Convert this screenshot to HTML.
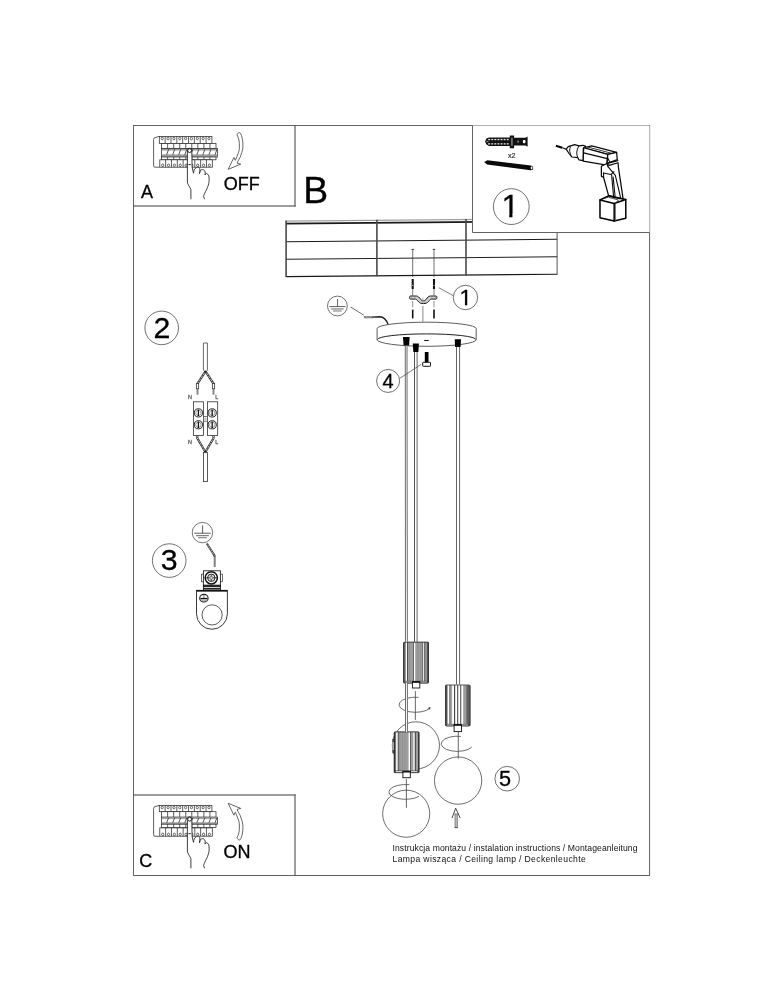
<!DOCTYPE html>
<html lang="pl">
<head>
<meta charset="utf-8">
<title>Instrukcja montażu</title>
<style>
html,body{margin:0;padding:0;background:#fff;}
body{width:774px;height:1000px;overflow:hidden;}
svg{display:block;will-change:transform;}
text{font-family:"Liberation Sans",Arial,Helvetica,sans-serif;fill:#000;stroke:#000;stroke-width:0.3px;}
</style>
</head>
<body>
<svg width="774" height="1000" viewBox="0 0 774 1000">
<rect x="0" y="0" width="774" height="1000" fill="#ffffff"/>

<path d="M133.5,125 L133.5,876 M133,125.5 L650,125.5 M649.6,125 L649.6,876 M133,875.5 L650,875.5" fill="none" stroke="#626262" stroke-width="1"/>
<g stroke="#333" stroke-width="1" fill="none"><line x1="285.8" y1="221.10" x2="557.3" y2="218.71" stroke-width="1.4" stroke="#a0a0a0"/><line x1="285.8" y1="223.60" x2="557.3" y2="221.21" stroke-width="1.8" stroke="#1a1a1a"/><line x1="285.8" y1="241.70" x2="557.3" y2="239.31" stroke-width="1.05" stroke="#1a1a1a"/><line x1="285.8" y1="259.20" x2="557.3" y2="256.81" stroke-width="1.05" stroke="#222"/><line x1="285.8" y1="276.60" x2="557.3" y2="274.21" stroke-width="1.05" stroke="#1a1a1a"/><line x1="286.1" y1="220.60" x2="286.1" y2="277.10" stroke-width="1.6" stroke="#4a4a4a"/><line x1="376.9" y1="219.80" x2="376.9" y2="276.30" stroke-width="1.6" stroke="#4a4a4a"/><line x1="466.0" y1="219.01" x2="466.0" y2="275.51" stroke-width="1.6" stroke="#4a4a4a"/><line x1="557.1" y1="218.21" x2="557.1" y2="274.71" stroke-width="1.0" stroke="#555"/></g>
<path d="M295,125.5 L295,206.5 M133.5,206 L295.5,206" fill="none" stroke="#3c3c3c" stroke-width="1"/>
<rect x="472.5" y="125.5" width="177" height="107" fill="#fff" stroke="none"/><path d="M472.5,125.5 L472.5,232.5 L649.6,232.5" fill="none" stroke="#626262" stroke-width="1"/>
<path d="M133.5,795 L295.5,795 M295,794.5 L295,875.5" fill="none" stroke="#3c3c3c" stroke-width="1"/>
<g transform="translate(0,0)" stroke="#2a2a2a" stroke-width="0.75" fill="none"><path d="M159.3,136.4 L155,137.6 Q153.6,138.0 153.6,139.4 L153.6,165.8 Q153.6,167.2 155,167.2 L159.8,167.2"/><rect x="159.3" y="136.4" width="52.6" height="7.00" fill="#fff"/><line x1="165.14" y1="136.4" x2="165.14" y2="143.4"/><line x1="170.99" y1="136.4" x2="170.99" y2="143.4"/><line x1="176.83" y1="136.4" x2="176.83" y2="143.4"/><line x1="182.68" y1="136.4" x2="182.68" y2="143.4"/><line x1="188.52" y1="136.4" x2="188.52" y2="143.4"/><line x1="194.36" y1="136.4" x2="194.36" y2="143.4"/><line x1="200.21" y1="136.4" x2="200.21" y2="143.4"/><line x1="206.05" y1="136.4" x2="206.05" y2="143.4"/><ellipse cx="162.22" cy="138.50" rx="1.1" ry="1.3" stroke-width="0.7"/><ellipse cx="168.07" cy="138.50" rx="1.1" ry="1.3" stroke-width="0.7"/><ellipse cx="173.91" cy="138.50" rx="1.1" ry="1.3" stroke-width="0.7"/><ellipse cx="179.75" cy="138.50" rx="1.1" ry="1.3" stroke-width="0.7"/><ellipse cx="185.60" cy="138.50" rx="1.1" ry="1.3" stroke-width="0.7"/><ellipse cx="191.44" cy="138.50" rx="1.1" ry="1.3" stroke-width="0.7"/><ellipse cx="197.29" cy="138.50" rx="1.1" ry="1.3" stroke-width="0.7"/><ellipse cx="203.13" cy="138.50" rx="1.1" ry="1.3" stroke-width="0.7"/><ellipse cx="208.97" cy="138.50" rx="1.1" ry="1.3" stroke-width="0.7"/><rect x="161.6" y="143.4" width="54.4" height="5.20" fill="#fff"/><line x1="167.64" y1="143.4" x2="167.64" y2="148.6"/><line x1="173.68" y1="143.4" x2="173.68" y2="148.6"/><line x1="179.72" y1="143.4" x2="179.72" y2="148.6"/><line x1="185.76" y1="143.4" x2="185.76" y2="148.6"/><line x1="191.80" y1="143.4" x2="191.80" y2="148.6"/><line x1="197.84" y1="143.4" x2="197.84" y2="148.6"/><line x1="203.88" y1="143.4" x2="203.88" y2="148.6"/><line x1="209.92" y1="143.4" x2="209.92" y2="148.6"/><rect x="161.6" y="148.6" width="55.8" height="8.40" fill="#fff"/><rect x="161.9" y="149.0" width="55.2" height="1.60" fill="#a4a4a4" stroke="none"/><rect x="161.9" y="154.4" width="55.2" height="2.20" fill="#9a9a9a" stroke="none"/><line x1="168.64" y1="149.30" x2="166.64" y2="154.80" stroke-width="0.8"/><line x1="174.68" y1="149.30" x2="172.68" y2="154.80" stroke-width="0.8"/><line x1="180.72" y1="149.30" x2="178.72" y2="154.80" stroke-width="0.8"/><line x1="186.76" y1="149.30" x2="184.76" y2="154.80" stroke-width="0.8"/><line x1="192.80" y1="149.30" x2="190.80" y2="154.80" stroke-width="0.8"/><line x1="198.84" y1="149.30" x2="196.84" y2="154.80" stroke-width="0.8"/><line x1="204.88" y1="149.30" x2="202.88" y2="154.80" stroke-width="0.8"/><line x1="210.92" y1="149.30" x2="208.92" y2="154.80" stroke-width="0.8"/><line x1="216.96" y1="149.30" x2="214.96" y2="154.80" stroke-width="0.8"/><rect x="161.6" y="157.0" width="54.4" height="2.80" fill="#fff"/><line x1="167.64" y1="157.0" x2="167.64" y2="159.8"/><line x1="173.68" y1="157.0" x2="173.68" y2="159.8"/><line x1="179.72" y1="157.0" x2="179.72" y2="159.8"/><line x1="185.76" y1="157.0" x2="185.76" y2="159.8"/><line x1="191.80" y1="157.0" x2="191.80" y2="159.8"/><line x1="197.84" y1="157.0" x2="197.84" y2="159.8"/><line x1="203.88" y1="157.0" x2="203.88" y2="159.8"/><line x1="209.92" y1="157.0" x2="209.92" y2="159.8"/><rect x="159.8" y="159.8" width="52.5" height="7.40" fill="#fff"/><line x1="165.63" y1="159.8" x2="165.63" y2="167.2"/><line x1="171.47" y1="159.8" x2="171.47" y2="167.2"/><line x1="177.30" y1="159.8" x2="177.30" y2="167.2"/><line x1="183.13" y1="159.8" x2="183.13" y2="167.2"/><line x1="188.97" y1="159.8" x2="188.97" y2="167.2"/><line x1="194.80" y1="159.8" x2="194.80" y2="167.2"/><line x1="200.63" y1="159.8" x2="200.63" y2="167.2"/><line x1="206.46" y1="159.8" x2="206.46" y2="167.2"/><ellipse cx="162.72" cy="165.3" rx="1.1" ry="1.3" stroke-width="0.7"/><ellipse cx="168.55" cy="165.3" rx="1.1" ry="1.3" stroke-width="0.7"/><ellipse cx="174.38" cy="165.3" rx="1.1" ry="1.3" stroke-width="0.7"/><ellipse cx="180.22" cy="165.3" rx="1.1" ry="1.3" stroke-width="0.7"/><ellipse cx="186.05" cy="165.3" rx="1.1" ry="1.3" stroke-width="0.7"/><ellipse cx="191.88" cy="165.3" rx="1.1" ry="1.3" stroke-width="0.7"/><ellipse cx="197.71" cy="165.3" rx="1.1" ry="1.3" stroke-width="0.7"/><ellipse cx="203.55" cy="165.3" rx="1.1" ry="1.3" stroke-width="0.7"/><ellipse cx="209.38" cy="165.3" rx="1.1" ry="1.3" stroke-width="0.7"/><path d="M190.9,199.2 L190.9,189.4 C189.4,186.5 187.4,184 187.4,182 L187.4,150.80 C187.4,147.40 191.8,147.40 191.8,150.80 L192.1,167.3 L193.5,173.2 C193.8,170.5 194.4,169 195.2,168.4 C196.6,167.2 198.4,167 199.1,167.4 C199.9,168.2 200.2,170.6 199.5,173.6 C199.9,171.6 200.3,170.6 200.8,170.1 C201.8,169.4 203,169.5 203.7,169.9 C204.9,170.7 205.7,172.3 205,175 C205.6,173.6 206.4,173.3 207,173.7 C208.2,174.4 208.8,175.4 209,177 C209.4,180 209,183 208.2,185.5 C207.4,188 206.4,189.8 205.6,191.4 C204.6,193.6 203.6,195.6 203.6,196.6 L204.6,199.2" fill="#fff" stroke="#1c1c1c" stroke-width="0.85" stroke-linejoin="round"/><circle cx="189.6" cy="150.60" r="1.9" fill="#fff" stroke="#111" stroke-width="0.9"/><line x1="188.4" y1="164.6" x2="190.8" y2="164.6" stroke="#111" stroke-width="0.9"/></g>
<g transform="translate(0,669.1)" stroke="#2a2a2a" stroke-width="0.75" fill="none"><path d="M159.3,136.3 L155,137.5 Q153.6,137.9 153.6,139.3 L153.6,165.8 Q153.6,167.2 155,167.2 L159.8,167.2"/><rect x="159.3" y="136.3" width="52.6" height="6.30" fill="#fff"/><line x1="165.14" y1="136.3" x2="165.14" y2="142.6"/><line x1="170.99" y1="136.3" x2="170.99" y2="142.6"/><line x1="176.83" y1="136.3" x2="176.83" y2="142.6"/><line x1="182.68" y1="136.3" x2="182.68" y2="142.6"/><line x1="188.52" y1="136.3" x2="188.52" y2="142.6"/><line x1="194.36" y1="136.3" x2="194.36" y2="142.6"/><line x1="200.21" y1="136.3" x2="200.21" y2="142.6"/><line x1="206.05" y1="136.3" x2="206.05" y2="142.6"/><ellipse cx="162.22" cy="138.40" rx="1.1" ry="1.3" stroke-width="0.7"/><ellipse cx="168.07" cy="138.40" rx="1.1" ry="1.3" stroke-width="0.7"/><ellipse cx="173.91" cy="138.40" rx="1.1" ry="1.3" stroke-width="0.7"/><ellipse cx="179.75" cy="138.40" rx="1.1" ry="1.3" stroke-width="0.7"/><ellipse cx="185.60" cy="138.40" rx="1.1" ry="1.3" stroke-width="0.7"/><ellipse cx="191.44" cy="138.40" rx="1.1" ry="1.3" stroke-width="0.7"/><ellipse cx="197.29" cy="138.40" rx="1.1" ry="1.3" stroke-width="0.7"/><ellipse cx="203.13" cy="138.40" rx="1.1" ry="1.3" stroke-width="0.7"/><ellipse cx="208.97" cy="138.40" rx="1.1" ry="1.3" stroke-width="0.7"/><rect x="161.6" y="142.6" width="54.4" height="5.50" fill="#fff"/><line x1="167.64" y1="142.6" x2="167.64" y2="148.1"/><line x1="173.68" y1="142.6" x2="173.68" y2="148.1"/><line x1="179.72" y1="142.6" x2="179.72" y2="148.1"/><line x1="185.76" y1="142.6" x2="185.76" y2="148.1"/><line x1="191.80" y1="142.6" x2="191.80" y2="148.1"/><line x1="197.84" y1="142.6" x2="197.84" y2="148.1"/><line x1="203.88" y1="142.6" x2="203.88" y2="148.1"/><line x1="209.92" y1="142.6" x2="209.92" y2="148.1"/><rect x="161.6" y="148.1" width="55.8" height="7.00" fill="#fff"/><rect x="161.9" y="148.4" width="55.2" height="1.60" fill="#a4a4a4" stroke="none"/><rect x="161.9" y="153.2" width="55.2" height="1.80" fill="#9a9a9a" stroke="none"/><line x1="168.64" y1="148.70" x2="166.64" y2="153.60" stroke-width="0.8"/><line x1="174.68" y1="148.70" x2="172.68" y2="153.60" stroke-width="0.8"/><line x1="180.72" y1="148.70" x2="178.72" y2="153.60" stroke-width="0.8"/><line x1="186.76" y1="148.70" x2="184.76" y2="153.60" stroke-width="0.8"/><line x1="192.80" y1="148.70" x2="190.80" y2="153.60" stroke-width="0.8"/><line x1="198.84" y1="148.70" x2="196.84" y2="153.60" stroke-width="0.8"/><line x1="204.88" y1="148.70" x2="202.88" y2="153.60" stroke-width="0.8"/><line x1="210.92" y1="148.70" x2="208.92" y2="153.60" stroke-width="0.8"/><line x1="216.96" y1="148.70" x2="214.96" y2="153.60" stroke-width="0.8"/><rect x="161.6" y="155.1" width="54.4" height="3.40" fill="#fff"/><line x1="167.64" y1="155.1" x2="167.64" y2="158.5"/><line x1="173.68" y1="155.1" x2="173.68" y2="158.5"/><line x1="179.72" y1="155.1" x2="179.72" y2="158.5"/><line x1="185.76" y1="155.1" x2="185.76" y2="158.5"/><line x1="191.80" y1="155.1" x2="191.80" y2="158.5"/><line x1="197.84" y1="155.1" x2="197.84" y2="158.5"/><line x1="203.88" y1="155.1" x2="203.88" y2="158.5"/><line x1="209.92" y1="155.1" x2="209.92" y2="158.5"/><rect x="159.8" y="158.8" width="52.5" height="8.30" fill="#fff"/><line x1="165.63" y1="158.8" x2="165.63" y2="167.1"/><line x1="171.47" y1="158.8" x2="171.47" y2="167.1"/><line x1="177.30" y1="158.8" x2="177.30" y2="167.1"/><line x1="183.13" y1="158.8" x2="183.13" y2="167.1"/><line x1="188.97" y1="158.8" x2="188.97" y2="167.1"/><line x1="194.80" y1="158.8" x2="194.80" y2="167.1"/><line x1="200.63" y1="158.8" x2="200.63" y2="167.1"/><line x1="206.46" y1="158.8" x2="206.46" y2="167.1"/><ellipse cx="162.72" cy="165.3" rx="1.1" ry="1.3" stroke-width="0.7"/><ellipse cx="168.55" cy="165.3" rx="1.1" ry="1.3" stroke-width="0.7"/><ellipse cx="174.38" cy="165.3" rx="1.1" ry="1.3" stroke-width="0.7"/><ellipse cx="180.22" cy="165.3" rx="1.1" ry="1.3" stroke-width="0.7"/><ellipse cx="186.05" cy="165.3" rx="1.1" ry="1.3" stroke-width="0.7"/><ellipse cx="191.88" cy="165.3" rx="1.1" ry="1.3" stroke-width="0.7"/><ellipse cx="197.71" cy="165.3" rx="1.1" ry="1.3" stroke-width="0.7"/><ellipse cx="203.55" cy="165.3" rx="1.1" ry="1.3" stroke-width="0.7"/><ellipse cx="209.38" cy="165.3" rx="1.1" ry="1.3" stroke-width="0.7"/><path d="M190.9,199.2 L190.9,189.4 C189.4,186.5 187.4,184 187.4,182 L187.4,150.30 C187.4,146.90 191.8,146.90 191.8,150.30 L192.1,167.3 L193.5,173.2 C193.8,170.5 194.4,169 195.2,168.4 C196.6,167.2 198.4,167 199.1,167.4 C199.9,168.2 200.2,170.6 199.5,173.6 C199.9,171.6 200.3,170.6 200.8,170.1 C201.8,169.4 203,169.5 203.7,169.9 C204.9,170.7 205.7,172.3 205,175 C205.6,173.6 206.4,173.3 207,173.7 C208.2,174.4 208.8,175.4 209,177 C209.4,180 209,183 208.2,185.5 C207.4,188 206.4,189.8 205.6,191.4 C204.6,193.6 203.6,195.6 203.6,196.6 L204.6,199.2" fill="#fff" stroke="#1c1c1c" stroke-width="0.85" stroke-linejoin="round"/><circle cx="189.6" cy="150.10" r="1.9" fill="#fff" stroke="#111" stroke-width="0.9"/><line x1="188.4" y1="164.6" x2="190.8" y2="164.6" stroke="#111" stroke-width="0.9"/></g>
<text x="141.1" y="197.5" font-size="18">A</text>
<text x="139.2" y="866.8" font-size="18">C</text>
<text x="223.7" y="190.2" font-size="18">OFF</text>
<text x="223.6" y="857.6" font-size="18">ON</text>
<text x="303.3" y="203.1" font-size="37.4">B</text>
<path d="M237.1,135 C237.1,133.2 239.6,131.6 240.7,133.6 C241.6,135.2 242.5,139 242.8,142.1 C243,144.4 243,146.4 242.8,148.2 C242.6,150 242.3,151 241.8,152.4 C241.3,154 240.8,155.6 240.2,157.1 C239.5,158.6 238.8,159.8 238.1,160.9 L237.1,163.2 L240.7,164.2 L228.2,169.3 L233.9,157.4 L235.3,160.4 C235.9,159.2 236.4,158 236.9,156.7 C237.5,155.2 238.1,153.8 238.55,152.4 C239,151 239.3,150 239.35,148.7 C239.45,147 239.45,145.2 239.35,143.5 C239.2,141.6 239,140.2 238.6,138.8 C238.2,137.4 237.7,136.2 237.1,135 Z" fill="#fff" stroke="#333" stroke-width="0.75" stroke-linejoin="miter"/>
<g transform="translate(0,972.6) scale(1,-1)"><path d="M237.1,135 C237.1,133.2 239.6,131.6 240.7,133.6 C241.6,135.2 242.5,139 242.8,142.1 C243,144.4 243,146.4 242.8,148.2 C242.6,150 242.3,151 241.8,152.4 C241.3,154 240.8,155.6 240.2,157.1 C239.5,158.6 238.8,159.8 238.1,160.9 L237.1,163.2 L240.7,164.2 L228.2,169.3 L233.9,157.4 L235.3,160.4 C235.9,159.2 236.4,158 236.9,156.7 C237.5,155.2 238.1,153.8 238.55,152.4 C239,151 239.3,150 239.35,148.7 C239.45,147 239.45,145.2 239.35,143.5 C239.2,141.6 239,140.2 238.6,138.8 C238.2,137.4 237.7,136.2 237.1,135 Z" fill="#fff" stroke="#333" stroke-width="0.75"/></g>
<g><path d="M485,141.6 L486.5,138.6 L489,137.4 L509.8,137.4 L509.8,135.4 L514.1,135.4 L514.1,137.8 L525.5,137.8 L527.6,136.4 L527.6,146.8 L525.5,145.6 L514.1,145.6 L514.1,148.2 L509.8,148.2 L509.8,145.9 L489,145.9 L486.5,144.6 Z" fill="#111"/><g fill="#e4e4e4"><rect x="488.2" y="138.9" width="1.9" height="1.3"/><rect x="488.2" y="143.2" width="1.9" height="1.3"/><rect x="491.3" y="138.9" width="1.9" height="1.3"/><rect x="491.3" y="143.2" width="1.9" height="1.3"/><rect x="494.4" y="138.9" width="1.9" height="1.3"/><rect x="494.4" y="143.2" width="1.9" height="1.3"/><rect x="497.5" y="138.9" width="1.9" height="1.3"/><rect x="497.5" y="143.2" width="1.9" height="1.3"/><rect x="500.6" y="138.9" width="1.9" height="1.3"/><rect x="500.6" y="143.2" width="1.9" height="1.3"/><rect x="503.7" y="138.9" width="1.9" height="1.3"/><rect x="503.7" y="143.2" width="1.9" height="1.3"/><rect x="506.8" y="138.9" width="1.9" height="1.3"/><rect x="506.8" y="143.2" width="1.9" height="1.3"/><rect x="486.4" y="141.1" width="2" height="1" fill="#aaa"/><rect x="511.5" y="137.6" width="0.9" height="8.2" fill="#ccc"/><rect x="522.9" y="139.9" width="2.5" height="3.4" rx="0.8" fill="#fff"/><rect x="517.4" y="140.6" width="1.4" height="2" fill="#999"/></g></g>
<text x="507.9" y="157.6" font-size="7.1" style="fill:#333;stroke:#333;stroke-width:0.2px">x2</text>
<g><path d="M484.2,161.9 L487.4,160.3 L531,165.6 L533.1,166.8 L533.1,169.6 L530.6,170.2 L487,164.4 Z" fill="#0a0a0a"/><ellipse cx="531.6" cy="167.9" rx="0.9" ry="1.3" fill="#fff"/></g>
<circle cx="511.3" cy="206.6" r="17.9" fill="#fff" stroke="#333" stroke-width="0.7"/><text x="510.3" y="216.80" font-size="32" text-anchor="middle">1</text><rect x="502.68" y="213.90" width="6.55" height="4.90" fill="#fff"/><rect x="512.45" y="213.90" width="6.40" height="4.90" fill="#fff"/>
<g><path d="M555.9,145.8 L562.3,147.8" stroke="#000" stroke-width="2.1" fill="none"/><path d="M562.3,147.8 L566.4,149.2" stroke="#111" stroke-width="1.2" fill="none"/><path d="M566.2,149.2 L568.2,146.6 L574.7,144.6 L578.9,145.8 L583,145.3 L585.8,146.4 L583.3,148.3 L583.3,160.7 L578.9,159.8 L577.8,157.7 L571.8,157 L569,153.5 Z" fill="#fff" stroke="#0a0a0a" stroke-width="1.2" stroke-linejoin="round"/><path d="M570.6,146.3 Q568.2,151 571.9,157" fill="none" stroke="#111" stroke-width="1"/><path d="M578.9,145.8 Q575.2,152.4 577.8,157.7" fill="none" stroke="#111" stroke-width="1"/><path d="M583.65,147.76 L591.78,145.78 L616.65,152.29 L607.79,154.46 Z" fill="#fff" stroke="#0a0a0a" stroke-width="1.25" stroke-linejoin="round" stroke-linecap="round"/><path d="M587.71,147.04 L611.22,153.19" fill="none" stroke="#222" stroke-width="0.9" stroke-linejoin="round" stroke-linecap="round"/><path d="M583.65,147.76 L607.79,154.46 L606.70,165.12 L583.19,161.06 Z" fill="#fff" stroke="#0a0a0a" stroke-width="1.25" stroke-linejoin="round" stroke-linecap="round"/><path d="M583.65,152.92 L607.33,158.61" fill="none" stroke="#0a0a0a" stroke-width="1.2" stroke-linejoin="round" stroke-linecap="round"/><path d="M607.79,154.46 L616.65,152.29 L617.28,159.70 L609.87,162.23 L607.15,163.50 Z" fill="#fff" stroke="#0a0a0a" stroke-width="1.25" stroke-linejoin="round" stroke-linecap="round"/><path d="M609.87,162.23 L607.79,158.34" fill="none" stroke="#0a0a0a" stroke-width="1.1" stroke-linejoin="round" stroke-linecap="round"/><path d="M601.38,166.24 L601.38,176.32 L603.55,177.25 L608.51,195.31 L623.09,198.80 L618.43,167.40 L618.05,162.75 L609.13,165.47 L606.81,163.53 Z" fill="#fff" stroke="#0a0a0a" stroke-width="1.25" stroke-linejoin="round" stroke-linecap="round"/><path d="M608.36,163.14 L617.81,160.58" fill="none" stroke="#0a0a0a" stroke-width="1.25" stroke-linejoin="round" stroke-linecap="round"/><path d="M603.55,172.98 L610.84,174.53 L613.94,171.67" fill="none" stroke="#0a0a0a" stroke-width="1.1" stroke-linejoin="round" stroke-linecap="round"/><path d="M603.55,172.98 L603.55,177.25" fill="none" stroke="#0a0a0a" stroke-width="1.1" stroke-linejoin="round" stroke-linecap="round"/><path d="M611.61,174.77 L613.94,200.74" fill="none" stroke="#0a0a0a" stroke-width="1.1" stroke-linejoin="round" stroke-linecap="round"/><path d="M613.16,177.09 L615.49,200.74" fill="none" stroke="#0a0a0a" stroke-width="1.1" stroke-linejoin="round" stroke-linecap="round"/><path d="M607.97,166.63 L615.33,175.31 L620.76,198.41" fill="none" stroke="#0a0a0a" stroke-width="1.1" stroke-linejoin="round" stroke-linecap="round"/><path d="M606.81,163.53 L607.97,166.63" fill="none" stroke="#0a0a0a" stroke-width="1.1" stroke-linejoin="round" stroke-linecap="round"/><path d="M599.98,199.96 L608.36,195.85 L614.56,197.48 L625.80,199.57 L625.80,218.18 L614.17,221.05 L599.98,217.79 Z" fill="#fff" stroke="#000" stroke-width="1.5" stroke-linejoin="round" stroke-linecap="round"/><path d="M599.98,199.96 L614.17,203.45 L625.80,199.57" fill="none" stroke="#000" stroke-width="1.5" stroke-linejoin="round" stroke-linecap="round"/><path d="M614.17,203.45 L614.17,221.05" fill="none" stroke="#000" stroke-width="1.5" stroke-linejoin="round" stroke-linecap="round"/><path d="M615.49,203.22 L615.49,220.74" fill="none" stroke="#444" stroke-width="0.7" stroke-linejoin="round" stroke-linecap="round"/><path d="M601.38,199.34 L608.36,197.25 L618.43,199.96 L616.11,202.67" fill="none" stroke="#222" stroke-width="0.8" stroke-linejoin="round" stroke-linecap="round"/></g>
<circle cx="161.7" cy="327.9" r="16.8" fill="#fff" stroke="#333" stroke-width="0.7"/><text x="161.89999999999998" y="338.30" font-size="30.3" text-anchor="middle">2</text>
<g stroke="#444" stroke-width="0.8" fill="none"><path d="M203.4,370.6 L203.4,343 L207.4,343 L207.4,370.6" fill="#fff"/><path d="M205.5,371.4 L197.5,383.6" stroke="#333" stroke-width="2.2"/><path d="M205.5,371.4 L197.5,383.6" stroke="#fff" stroke-width="1.0" stroke-dasharray="0.9 0.9"/><rect x="196.35" y="383.4" width="2.3" height="5.4" fill="#fff" stroke="#333" stroke-width="0.8"/><line x1="197.5" y1="388.8" x2="197.5" y2="394.7" stroke="#858585" stroke-width="1.9"/><path d="M205.5,371.4 L213.5,383.6" stroke="#333" stroke-width="2.2"/><path d="M205.5,371.4 L213.5,383.6" stroke="#fff" stroke-width="1.0" stroke-dasharray="0.9 0.9"/><rect x="212.35" y="383.4" width="2.3" height="5.4" fill="#fff" stroke="#333" stroke-width="0.8"/><line x1="213.5" y1="388.8" x2="213.5" y2="394.7" stroke="#858585" stroke-width="1.9"/><rect x="204.6" y="370.6" width="1.8" height="1.6" fill="#111" stroke="none"/><rect x="193.5" y="401.8" width="10" height="33.8" fill="#fff" stroke="#333"/><rect x="207.5" y="401.8" width="10.2" height="33.8" fill="#fff" stroke="#333"/><rect x="203.5" y="416.6" width="4" height="4.6" fill="#fff" stroke="#444" stroke-width="0.7"/><circle cx="205.5" cy="418.9" r="0.9" stroke="#666" stroke-width="0.5"/><circle cx="198.4" cy="412.9" r="4.1" fill="#fff" stroke="#222" stroke-width="1"/><circle cx="198.4" cy="412.9" r="2.7" fill="#fff" stroke="#555" stroke-width="0.6"/><line x1="198.4" y1="409.7" x2="198.4" y2="416.09999999999997" stroke="#111" stroke-width="1.3"/><circle cx="212.2" cy="412.9" r="4.1" fill="#fff" stroke="#222" stroke-width="1"/><circle cx="212.2" cy="412.9" r="2.7" fill="#fff" stroke="#555" stroke-width="0.6"/><line x1="212.2" y1="409.7" x2="212.2" y2="416.09999999999997" stroke="#111" stroke-width="1.3"/><circle cx="198.4" cy="424.8" r="4.1" fill="#fff" stroke="#222" stroke-width="1"/><circle cx="198.4" cy="424.8" r="2.7" fill="#fff" stroke="#555" stroke-width="0.6"/><line x1="198.4" y1="421.6" x2="198.4" y2="428.0" stroke="#111" stroke-width="1.3"/><circle cx="212.2" cy="424.8" r="4.1" fill="#fff" stroke="#222" stroke-width="1"/><circle cx="212.2" cy="424.8" r="2.7" fill="#fff" stroke="#555" stroke-width="0.6"/><line x1="212.2" y1="421.6" x2="212.2" y2="428.0" stroke="#111" stroke-width="1.3"/><path d="M197.3,435.8 L197.3,438.2 L205.4,452" stroke="#333" stroke-width="2.2"/><path d="M197.3,436.4 L197.3,438.2 L205.4,452" stroke="#fff" stroke-width="1.0" stroke-dasharray="0.9 0.9"/><path d="M213.5,435.8 L213.5,438.2 L205.4,452" stroke="#333" stroke-width="2.2"/><path d="M213.5,436.4 L213.5,438.2 L205.4,452" stroke="#fff" stroke-width="1.0" stroke-dasharray="0.9 0.9"/><rect x="204.5" y="451.2" width="1.8" height="1.6" fill="#111" stroke="none"/><rect x="203.4" y="452.4" width="4" height="29.2" fill="#fff" stroke="#333"/></g>
<text x="188.0" y="399.2" font-size="5.4" style="fill:#666;stroke:#666;stroke-width:0.3px">N</text>
<text x="215.3" y="399.4" font-size="5.4" style="fill:#666;stroke:#666;stroke-width:0.3px">L</text>
<text x="188.0" y="444.2" font-size="5.4" style="fill:#666;stroke:#666;stroke-width:0.3px">N</text>
<text x="215.3" y="444.2" font-size="5.4" style="fill:#666;stroke:#666;stroke-width:0.3px">L</text>
<circle cx="169.2" cy="560.6" r="16.8" fill="#fff" stroke="#333" stroke-width="0.7"/><text x="169.29999999999998" y="570.30" font-size="30.3" text-anchor="middle">3</text>
<g stroke="#333" stroke-width="0.8" fill="none"><circle cx="202.45" cy="532.6" r="10.2" fill="#fff" stroke="#444" stroke-width="0.75"/><line x1="202.6" y1="525.42" x2="202.6" y2="533.22"/><line x1="194.15" y1="533.22" x2="210.75" y2="533.22"/><line x1="195.99" y1="535.68" x2="208.91" y2="535.68" stroke="#555" stroke-width="0.9"/><line x1="198.04" y1="537.73" x2="206.86" y2="537.73" stroke="#666" stroke-width="0.9"/></g>
<g fill="none" stroke="#333" stroke-width="0.8"><path d="M206.7,543.2 L214.4,555.4 L214.7,557" stroke="#333" stroke-width="2"/><path d="M206.7,543.2 L214.4,555.4" stroke="#fff" stroke-width="0.9" stroke-dasharray="1.1 0.9"/><line x1="214.7" y1="556.6" x2="214.7" y2="567" stroke="#777" stroke-width="1.9"/><line x1="214.7" y1="557" x2="214.7" y2="567" stroke="#aaa" stroke-width="0.6" stroke-dasharray="0.8 0.8"/><rect x="201.4" y="574.2" width="21.2" height="7.6" fill="#fff" stroke="#333" stroke-width="0.7"/><rect x="203.4" y="570.8" width="17.0" height="14.6" fill="#fff" stroke="#222" stroke-width="0.9"/><circle cx="211.3" cy="577.8" r="6.1" fill="#fff" stroke="#111" stroke-width="1.5"/><circle cx="211.3" cy="577.8" r="3.7" fill="#e6e6e6" stroke="#222" stroke-width="1.0"/><path d="M204.6,577.8 L218,577.8 M211.3,574.6 L211.3,581" stroke="#222" stroke-width="0.8"/><circle cx="211.3" cy="577.8" r="1.5" fill="#ddd" stroke="#444" stroke-width="0.6"/><rect x="203.4" y="585.2" width="17.0" height="4.8" fill="#fff" stroke="#111" stroke-width="0.9"/><rect x="203.4" y="585.3" width="17.0" height="1.6" fill="#111" stroke="none"/><rect x="203.4" y="587.8" width="17.0" height="1.4" fill="#222" stroke="none"/><path d="M197.3,590.6 L226.6,590.6 Q227.4,590.6 227.4,591.6 L227.4,613.8 A15.45,15.45 0 0 1 196.5,613.8 L196.5,591.6 Q196.5,590.6 197.3,590.6 Z" fill="#fff" stroke="#222" stroke-width="0.9"/><rect x="196.1" y="589.9" width="31.7" height="1.7" fill="#111" stroke="none"/><circle cx="212.1" cy="614.9" r="10.1" fill="#fff" stroke="#333" stroke-width="0.8"/><ellipse cx="203.9" cy="598.2" rx="4.2" ry="3.8" fill="#fff" stroke="#222" stroke-width="1.1"/><path d="M200.4,598.6 L207.4,598.6" stroke="#111" stroke-width="1.4"/><path d="M201.4,600.3 Q203.9,601.6 206.4,600.3" stroke="#555" stroke-width="0.6"/><path d="M203.9,595.2 L203.9,598" stroke="#333" stroke-width="0.7"/></g>
<g fill="none" stroke="#333" stroke-width="0.8"><line x1="411.5" y1="249.4" x2="413.9" y2="249.4" stroke="#222" stroke-width="0.9"/><line x1="412.7" y1="249.4" x2="412.7" y2="277" stroke="#333" stroke-width="0.7"/><line x1="412.7" y1="279" x2="412.7" y2="289" stroke="#111" stroke-width="2.1"/><circle cx="412.7" cy="285.2" r="0.55" fill="#fff" stroke="none"/><line x1="412.7" y1="289" x2="412.7" y2="295.4" stroke="#444" stroke-width="0.7"/><line x1="412.7" y1="301" x2="412.7" y2="307.4" stroke="#777" stroke-width="0.8"/><line x1="412.7" y1="309.6" x2="412.7" y2="318.4" stroke="#111" stroke-width="1.6"/><line x1="432.8" y1="249.4" x2="435.2" y2="249.4" stroke="#222" stroke-width="0.9"/><line x1="434.0" y1="249.4" x2="434.0" y2="277" stroke="#333" stroke-width="0.7"/><line x1="434.0" y1="279" x2="434.0" y2="289" stroke="#111" stroke-width="2.1"/><circle cx="434.0" cy="285.2" r="0.55" fill="#fff" stroke="none"/><line x1="434.0" y1="289" x2="434.0" y2="295.4" stroke="#444" stroke-width="0.7"/><line x1="434.0" y1="301" x2="434.0" y2="307.4" stroke="#777" stroke-width="0.8"/><line x1="434.0" y1="309.6" x2="434.0" y2="318.4" stroke="#111" stroke-width="1.6"/><path d="M410.4,296 L416.4,296 C418.2,296.1 419.4,297.6 420.4,299 C421.2,300.2 422,300.9 423.4,300.9 C424.8,300.9 425.6,300.2 426.4,299 C427.4,297.6 428.6,296.1 430.4,296 L436,296 C437.3,296.1 437.3,299 436,299.1 L431.2,299.1 C430.2,299.2 429.4,300.4 428.4,301.6 C427.2,303 425.8,303.6 423.4,303.6 C421,303.6 419.6,303 418.4,301.6 C417.4,300.4 416.6,299.2 415.6,299.1 L410.4,299.1 C409.1,299 409.1,296.1 410.4,296 Z" fill="#d0d0d0" stroke="#111" stroke-width="0.95"/><ellipse cx="413" cy="297.55" rx="1.7" ry="0.7" fill="#fff" stroke="#555" stroke-width="0.4"/><ellipse cx="433.6" cy="297.55" rx="1.7" ry="0.7" fill="#fff" stroke="#555" stroke-width="0.4"/><ellipse cx="423.4" cy="302.2" rx="1.8" ry="0.6" fill="#fff" stroke="#555" stroke-width="0.4"/><line x1="422.9" y1="297.4" x2="422.9" y2="300" stroke="#999" stroke-width="0.8"/><line x1="422.9" y1="306" x2="422.9" y2="321.6" stroke="#888" stroke-width="1"/><line x1="438.8" y1="287.7" x2="453.6" y2="295.9" stroke="#444" stroke-width="0.7"/></g>
<circle cx="465.45" cy="297.5" r="12.2" fill="#fff" stroke="#333" stroke-width="0.7"/><text x="465.7" y="305.05" font-size="22.2" text-anchor="middle">1</text><rect x="460.42" y="302.88" width="4.48" height="4.17" fill="#fff"/><rect x="467.25" y="302.88" width="4.44" height="4.17" fill="#fff"/>
<g stroke="#333" stroke-width="0.8" fill="none"><circle cx="337.4" cy="306.0" r="9.9" fill="#fff" stroke="#444" stroke-width="0.75"/><line x1="337.54999999999995" y1="299.04" x2="337.54999999999995" y2="306.60"/><line x1="329.34" y1="306.60" x2="345.46" y2="306.60"/><line x1="331.13" y1="308.98" x2="343.67" y2="308.98" stroke="#555" stroke-width="0.9"/><line x1="333.12" y1="310.97" x2="341.68" y2="310.97" stroke="#666" stroke-width="0.9"/></g>
<g fill="none"><path d="M350.6,307 L363.6,315" stroke="#444" stroke-width="0.8"/><path d="M363.8,317.2 L373,317.2" stroke="#8a8a8a" stroke-width="2.2"/><path d="M372.4,317.1 L379.6,316.7 C384.4,316.9 386.6,320 388,324.4" stroke="#222" stroke-width="1.4"/></g>
<g fill="none" stroke="#333" stroke-width="0.8"><path d="M377.1,328.6 A49.55,6.4 0 0 1 476.2,328.6 L476.2,339.6 A49.55,6.7 0 0 1 377.1,339.6 Z" fill="#fff"/><path d="M377.4,339.6 A49.2,5.7 0 0 1 475.9,339.6" stroke="#222" stroke-width="1"/><line x1="424.2" y1="340.5" x2="428.7" y2="340.5" stroke="#111" stroke-width="1"/></g>
<g><rect x="414.5" y="350" width="2.6" height="292" fill="#fff"/><line x1="414.5" y1="350" x2="414.5" y2="642" stroke="#444" stroke-width="0.9"/><line x1="417.1" y1="350" x2="417.1" y2="642" stroke="#666" stroke-width="1"/><rect x="456.5" y="346" width="3.1" height="339" fill="#fff"/><line x1="456.5" y1="346" x2="456.5" y2="685" stroke="#666" stroke-width="1"/><line x1="459.6" y1="346" x2="459.6" y2="685" stroke="#666" stroke-width="1"/></g>
<circle cx="415.9" cy="745.4" r="23.6" fill="none" stroke="#3c3c3c" stroke-width="0.75"/>
<g stroke="#3c3c3c" stroke-width="0.75" fill="none"><path d="M418.56,697.34 A16.37,7.55 0 1 0 429.89,708.29"/><path d="M428.29,707.89 L430.39,707.19 L429.69,709.39 Z" fill="#333" stroke-width="0.4"/><line x1="415.35" y1="691.1" x2="415.35" y2="719.9" stroke="#555" stroke-width="0.9"/></g>
<g stroke="#3c3c3c" stroke-width="0.75" fill="none"><path d="M460.90,736.39 A16.08,7.6 0 1 0 471.73,747.13"/><line x1="458.27" y1="731.7" x2="458.27" y2="758.7" stroke="#555" stroke-width="0.9"/></g>
<g stroke="#3c3c3c" stroke-width="0.75" fill="none"><path d="M409.40,784.69 A16.7,7.4 0 1 0 418.98,796.35"/><line x1="406.38" y1="779" x2="406.38" y2="807.75" stroke="#555" stroke-width="0.9"/></g>
<g><rect x="403.3" y="641.8" width="25.6" height="41.6" rx="1" fill="#9e9e9e" stroke="none"/><rect x="403.30" y="642.40" width="1.40" height="40.40" fill="#3a3a3a"/><rect x="404.70" y="642.40" width="0.80" height="40.40" fill="#808080"/><rect x="409.50" y="642.40" width="0.40" height="40.40" fill="#858585"/><rect x="413.40" y="642.40" width="0.60" height="40.40" fill="#444"/><rect x="414.00" y="642.40" width="1.20" height="40.40" fill="#fff"/><rect x="417.60" y="642.40" width="0.60" height="40.40" fill="#808080"/><rect x="420.30" y="642.40" width="0.40" height="40.40" fill="#808080"/><rect x="422.50" y="642.40" width="0.70" height="40.40" fill="#444"/><rect x="423.20" y="642.40" width="1.20" height="40.40" fill="#fff"/><rect x="424.40" y="642.40" width="0.80" height="40.40" fill="#3a3a3a"/><rect x="426.90" y="642.40" width="2.00" height="40.40" fill="#555"/><rect x="405.6" y="642.3" width="1.5" height="40.3" fill="#fff"/><rect x="407.1" y="642.3" width="0.9" height="40.3" fill="#444"/><rect x="404.8" y="642.3" width="0.8" height="40.3" fill="#888"/><rect x="403.70" y="642.20" width="24.80" height="40.80" rx="1.2" fill="none" stroke="#2a2a2a" stroke-width="0.8"/><rect x="404.80" y="681.20" width="22.60" height="1.6" fill="#fff" stroke="#222" stroke-width="0.6"/><rect x="412.40" y="681.80" width="7.4" height="6.2" fill="#fff" stroke="#111" stroke-width="0.9"/><rect x="412.00" y="681.20" width="8.2" height="1.6" fill="#111"/></g>
<g><rect x="445.2" y="684.6" width="25.2" height="41.8" rx="1" fill="#fff" stroke="none"/><rect x="445.20" y="685.20" width="2.50" height="40.60" fill="#555"/><rect x="447.70" y="685.20" width="1.70" height="40.60" fill="#fff"/><rect x="449.40" y="685.20" width="1.30" height="40.60" fill="#4a4a4a"/><rect x="450.70" y="685.20" width="1.70" height="40.60" fill="#a8a8a8"/><rect x="452.40" y="685.20" width="1.60" height="40.60" fill="#fff"/><rect x="454.00" y="685.20" width="1.40" height="40.60" fill="#444"/><rect x="455.40" y="685.20" width="1.80" height="40.60" fill="#fff"/><rect x="457.20" y="685.20" width="1.30" height="40.60" fill="#444"/><rect x="458.50" y="685.20" width="1.70" height="40.60" fill="#fff"/><rect x="460.20" y="685.20" width="1.30" height="40.60" fill="#4a4a4a"/><rect x="461.50" y="685.20" width="1.70" height="40.60" fill="#fff"/><rect x="463.20" y="685.20" width="3.00" height="40.60" fill="#9c9c9c"/><rect x="466.20" y="685.20" width="4.20" height="40.60" fill="#606060"/><rect x="445.60" y="685.00" width="24.40" height="41.00" rx="1.2" fill="none" stroke="#2a2a2a" stroke-width="0.8"/><rect x="446.70" y="724.20" width="22.20" height="1.6" fill="#fff" stroke="#222" stroke-width="0.6"/><rect x="454.10" y="724.80" width="7.4" height="6.8" fill="#fff" stroke="#111" stroke-width="0.9"/><rect x="453.70" y="724.20" width="8.2" height="1.6" fill="#111"/></g>
<g><rect x="393.9" y="731.5" width="25.4" height="41.6" rx="1" fill="#9e9e9e" stroke="none"/><rect x="393.90" y="732.10" width="1.50" height="40.40" fill="#3a3a3a"/><rect x="396.20" y="732.10" width="1.60" height="40.40" fill="#fff"/><rect x="397.80" y="732.10" width="0.80" height="40.40" fill="#444"/><rect x="399.70" y="732.10" width="0.40" height="40.40" fill="#777"/><rect x="402.40" y="732.10" width="0.40" height="40.40" fill="#808080"/><rect x="404.80" y="732.10" width="0.40" height="40.40" fill="#808080"/><rect x="408.60" y="732.10" width="1.50" height="40.40" fill="#fff"/><rect x="410.10" y="732.10" width="0.70" height="40.40" fill="#444"/><rect x="413.30" y="732.10" width="1.50" height="40.40" fill="#fff"/><rect x="414.80" y="732.10" width="0.90" height="40.40" fill="#3a3a3a"/><rect x="418.10" y="732.10" width="1.20" height="40.40" fill="#3a3a3a"/><rect x="394.30" y="731.90" width="24.60" height="40.80" rx="1.2" fill="none" stroke="#2a2a2a" stroke-width="0.8"/><rect x="395.40" y="770.90" width="22.40" height="1.6" fill="#fff" stroke="#222" stroke-width="0.6"/><rect x="402.90" y="771.50" width="7.4" height="6.2" fill="#fff" stroke="#111" stroke-width="0.9"/><rect x="402.50" y="770.90" width="8.2" height="1.6" fill="#111"/></g>
<rect x="392.2" y="738.8" width="1.7" height="14.4" fill="#a0a0a0"/><rect x="392.6" y="738.8" width="1.3" height="3.2" fill="#333"/><rect x="392.6" y="750" width="1.3" height="3.2" fill="#333"/>
<g><path d="M404.80,344 L407.50,344 L407.85,642 L404.95,642 Z" fill="#fff"/><line x1="405.30" y1="344" x2="405.45" y2="642" stroke="#6c6c6c" stroke-width="1"/><line x1="407.00" y1="344" x2="407.35" y2="642" stroke="#6c6c6c" stroke-width="1"/><path d="M404.97,683 L407.89,683 L407.95,732 L405.00,732 Z" fill="#fff"/><line x1="405.47" y1="683" x2="405.50" y2="732" stroke="#6c6c6c" stroke-width="1"/><line x1="407.39" y1="683" x2="407.45" y2="732" stroke="#6c6c6c" stroke-width="1"/></g>
<g fill="#000"><path d="M403,337 L409.6,337 L409.1,345.6 L403.6,345.6 Z"/><path d="M412.8,343.6 L418.9,343.6 L418.4,351.9 L413.3,351.9 Z"/><path d="M454.7,339.2 L461,339.2 L460.6,347 L455.1,347 Z"/></g>
<circle cx="458.1" cy="780.6" r="23.65" fill="none" stroke="#3c3c3c" stroke-width="0.75"/>
<circle cx="406.2" cy="813.7" r="23.55" fill="none" stroke="#3c3c3c" stroke-width="0.75"/>
<g><rect x="454.7" y="813.8" width="3.0" height="14.2" fill="#b4b4b4"/><rect x="454.7" y="813.8" width="0.7" height="14.2" fill="#808080"/><rect x="457.0" y="813.8" width="0.7" height="14.2" fill="#808080"/><rect x="454.7" y="827.2" width="3.0" height="0.9" fill="#444"/><path d="M452,818 L455.7,808.2 L460.2,818" fill="none" stroke="#333" stroke-width="0.9" stroke-linejoin="miter"/><path d="M453.6,814 L458.4,814" fill="none" stroke="#555" stroke-width="0.6"/></g>
<g><rect x="424.8" y="352" width="3.7" height="10.2" fill="#000"/><rect x="422.7" y="362.3" width="7.8" height="4" rx="0.6" fill="#fff" stroke="#111" stroke-width="1"/><line x1="399.6" y1="378.5" x2="421.2" y2="364.3" stroke="#444" stroke-width="0.7"/></g>
<circle cx="388.1" cy="380.95" r="11.5" fill="#fff" stroke="#333" stroke-width="0.7"/><text x="388.1" y="387.60" font-size="20" text-anchor="middle">4</text>
<circle cx="507.2" cy="778.7" r="12.3" fill="#fff" stroke="#333" stroke-width="0.7"/><text x="505.09999999999997" y="785.70" font-size="21.7" text-anchor="middle">5</text>
<text x="392.5" y="850.8" font-size="8.6" style="fill:#111;stroke:none" textLength="245" lengthAdjust="spacing">Instrukcja montażu / instalation instructions / Montageanleitung</text>
<text x="392.5" y="861.6" font-size="8.6" style="fill:#111;stroke:none" textLength="193.2" lengthAdjust="spacing">Lampa wisząca / Ceiling lamp / Deckenleuchte</text>
</svg>
</body>
</html>
